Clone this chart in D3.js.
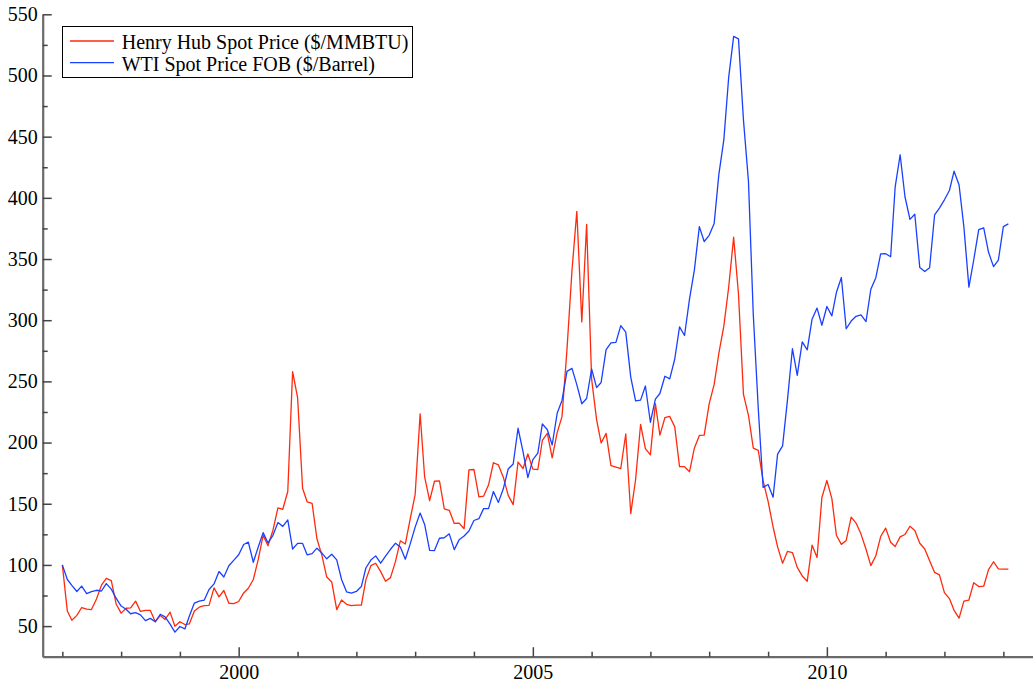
<!DOCTYPE html>
<html>
<head>
<meta charset="utf-8">
<script src="https://cdn.jsdelivr.net/npm/d3@7"></script>
<style>
  html, body { margin: 0; padding: 0; background: #fff; }
  svg { display: block; }
  text { font-family: "Liberation Serif", "Times New Roman", serif; }
</style>
</head>
<body>
<svg id="chart" width="1033" height="684"></svg>
<script>
// ---- DATA (index, Jan 1997 = 100), monthly Jan 1997 .. Feb 2013 ----
const startMonth = "1997-01";
const seriesNames = ["Henry Hub Spot Price ($/MMBTU)", "WTI Spot Price FOB ($/Barrel)"];
const seriesColors = ["#ff2a0d", "#1a40ff"];

const henryHub = [
  100, 62.3, 54.8, 58.8, 65.2, 63.8, 63.5, 72.2, 83.5, 89.0, 87.2, 68.1,
  60.6, 64.6, 64.9, 70.4, 62.0, 62.9, 62.9, 53.6, 58.6, 55.4, 61.4, 49.9,
  53.6, 51.3, 51.9, 62.3, 65.5, 66.7, 67.0, 81.2, 73.9, 79.1, 68.7, 68.4,
  70.1, 77.1, 80.9, 88.1, 104.1, 124.3, 115.7, 128.4, 146.7, 145.5, 160.0, 258.0,
  236.8, 162.6, 151.6, 150.4, 121.4, 107.8, 90.1, 86.1, 63.5, 71.3, 67.8, 66.7,
  67.2, 67.2, 87.8, 99.4, 101.4, 94.5, 86.7, 89.6, 102.9, 119.7, 117.1, 137.4,
  157.4, 223.5, 171.9, 152.5, 168.4, 168.7, 145.8, 144.6, 133.9, 134.2, 129.6, 177.7,
  178.0, 155.7, 156.2, 165.5, 183.5, 181.7, 171.9, 156.8, 149.3, 184.1, 178.8, 190.7,
  178.3, 178.0, 201.7, 207.5, 187.5, 208.1, 221.2, 276.2, 340.6, 389.0, 298.6, 378.3,
  251.9, 218.6, 199.7, 207.5, 181.2, 180.0, 178.8, 207.0, 142.0, 169.6, 214.8, 195.1,
  189.9, 231.9, 206.1, 220.3, 221.4, 213.0, 180.3, 180.3, 176.2, 195.4, 205.8, 206.1,
  231.6, 247.5, 272.8, 295.1, 326.7, 367.8, 321.4, 239.4, 222.3, 195.4, 193.6, 168.7,
  151.9, 131.0, 114.8, 101.4, 111.0, 110.1, 98.0, 91.0, 86.7, 116.2, 106.1, 155.1,
  169.0, 154.2, 124.3, 116.8, 120.0, 139.1, 134.2, 125.2, 112.8, 99.4, 107.5, 123.2,
  130.1, 118.6, 115.1, 122.9, 124.9, 131.6, 128.1, 117.7, 113.0, 103.5, 93.9, 91.9,
  77.4, 72.5, 62.9, 56.5, 70.4, 71.3, 85.5, 82.3, 82.6, 96.2, 102.6, 96.8,
  96.5, 96.5
];

const wti = [
  100, 88.1, 83.3, 78.3, 82.7, 76.5, 78.1, 79.3, 78.7, 84.7, 80.2, 72.8,
  66.4, 63.8, 60.1, 61.0, 59.2, 54.5, 56.3, 53.5, 59.7, 57.5, 51.6, 45.1,
  49.7, 47.7, 58.3, 68.8, 70.4, 71.2, 79.9, 84.5, 94.6, 90.1, 99.3, 103.7,
  108.3, 116.7, 118.6, 102.2, 114.4, 126.4, 118.0, 124.2, 134.6, 131.5, 136.8, 113.0,
  117.6, 117.6, 108.3, 109.2, 113.7, 109.7, 105.0, 108.7, 104.1, 88.1, 78.0, 77.0,
  78.3, 82.3, 97.5, 104.0, 107.4, 101.4, 107.2, 112.8, 117.8, 114.6, 104.7, 117.0,
  130.9, 142.4, 133.1, 111.9, 111.7, 121.8, 122.2, 125.4, 112.5, 120.5, 123.6, 127.7,
  136.3, 137.8, 146.0, 146.0, 160.0, 151.1, 162.0, 178.4, 182.5, 211.7, 192.6, 171.4,
  186.1, 191.3, 215.3, 210.5, 198.0, 223.9, 234.4, 258.2, 260.6, 247.4, 231.7, 236.0,
  260.2, 244.9, 249.1, 275.9, 281.4, 281.9, 295.6, 290.2, 253.5, 234.0, 234.7, 246.2,
  216.6, 235.5, 240.1, 254.2, 252.1, 268.1, 294.5, 287.5, 317.5, 340.9, 376.5, 364.3,
  369.4, 379.0, 419.0, 447.3, 498.2, 531.9, 529.9, 463.5, 413.6, 304.4, 227.7, 163.4,
  165.7, 155.3, 190.5, 197.3, 234.5, 276.7, 254.9, 282.3, 275.8, 300.8, 309.9, 295.9,
  311.2, 303.5, 322.6, 334.9, 293.0, 299.3, 303.2, 304.3, 298.9, 325.3, 334.7, 354.2,
  354.3, 351.9, 408.7, 435.2, 400.9, 382.4, 386.6, 343.0, 339.8, 342.9, 386.0, 391.6,
  398.4, 406.0, 421.8, 410.5, 376.1, 327.0, 349.2, 374.0, 375.5, 355.5, 343.8, 349.1,
  376.5, 378.7
];

const yMajorTicks = [50, 100, 150, 200, 250, 300, 350, 400, 450, 500, 550];
const yMinorTicks = [75, 125, 175, 225, 275, 325, 375, 425, 475, 525];
const xLabelYears = [2000, 2005, 2010];
const xTickYears = [1997, 1998, 1999, 2000, 2001, 2002, 2003, 2004, 2005, 2006, 2007, 2008, 2009, 2010, 2011, 2012, 2013];

// ---- CHART ----
const svg = d3.select("#chart");
svg.append("rect").attr("width", 1033).attr("height", 684).attr("fill", "#fff");

const parseMonth = d3.timeParse("%Y-%m");
const t0 = parseMonth(startMonth);
const months = d3.range(henryHub.length).map(i => d3.timeMonth.offset(t0, i));

const x = d3.scaleTime()
  .domain([new Date(1996, 8, 1), new Date(2013, 6, 1)])
  .range([42.7, 1032.5]);
const y = d3.scaleLinear().domain([25, 550]).range([656.7, 14.3]);

const axisColor = "#6a6a6a";

// X axis
const xAxis = svg.append("g")
  .attr("transform", "translate(0,656.7)")
  .call(d3.axisBottom(x)
    .tickValues(xTickYears.map(yr => new Date(yr, 0, 1)))
    .tickSize(-5).tickSizeOuter(0).tickPadding(8)
    .tickFormat(d => xLabelYears.includes(d.getFullYear()) ? String(d.getFullYear()) : ""));
xAxis.select(".domain").attr("stroke", axisColor).attr("stroke-width", 2.2);
xAxis.selectAll(".tick line").attr("stroke", "#444").attr("stroke-width", 1.5)
  .attr("y2", d => xLabelYears.includes(d.getFullYear()) ? -9.5 : -5);
xAxis.selectAll(".tick text").attr("fill", "#000").attr("font-size", 20)
  .attr("font-family", "Liberation Serif");

// Y axis
const yAxis = svg.append("g")
  .attr("transform", "translate(42.7,0)")
  .call(d3.axisLeft(y)
    .tickValues(yMajorTicks.concat(yMinorTicks))
    .tickSize(-5).tickSizeOuter(0).tickPadding(5)
    .tickFormat(d => yMajorTicks.includes(d) ? String(d) : ""));
yAxis.select(".domain").attr("stroke", axisColor).attr("stroke-width", 2.2);
yAxis.selectAll(".tick line").attr("stroke", "#444").attr("stroke-width", 1.5)
  .attr("x2", d => yMajorTicks.includes(d) ? 9 : 5);
yAxis.selectAll(".tick text").attr("fill", "#000").attr("font-size", 20)
  .attr("font-family", "Liberation Serif");

// Lines
const line = d3.line()
  .x((d, i) => x(months[i]))
  .y(d => y(d));

[henryHub, wti].forEach((vals, k) => {
  svg.append("path")
    .datum(vals)
    .attr("fill", "none")
    .attr("stroke", seriesColors[k])
    .attr("stroke-width", 1.3)
    .attr("stroke-linejoin", "round")
    .attr("d", line);
});

// Legend
const legend = svg.append("g");
legend.append("rect")
  .attr("x", 62.5).attr("y", 26.5).attr("width", 350).attr("height", 51)
  .attr("fill", "#fff").attr("stroke", "#000").attr("stroke-width", 1);
seriesNames.forEach((name, k) => {
  const ly = [41, 62.7][k];
  legend.append("line")
    .attr("x1", 70).attr("x2", 114).attr("y1", ly).attr("y2", ly)
    .attr("stroke", seriesColors[k]).attr("stroke-width", 1.3);
  legend.append("text")
    .attr("x", 121.7).attr("y", [49.3, 70.7][k])
    .attr("font-size", 20).attr("fill", "#000")
    .text(name);
});
</script>
</body>
</html>
